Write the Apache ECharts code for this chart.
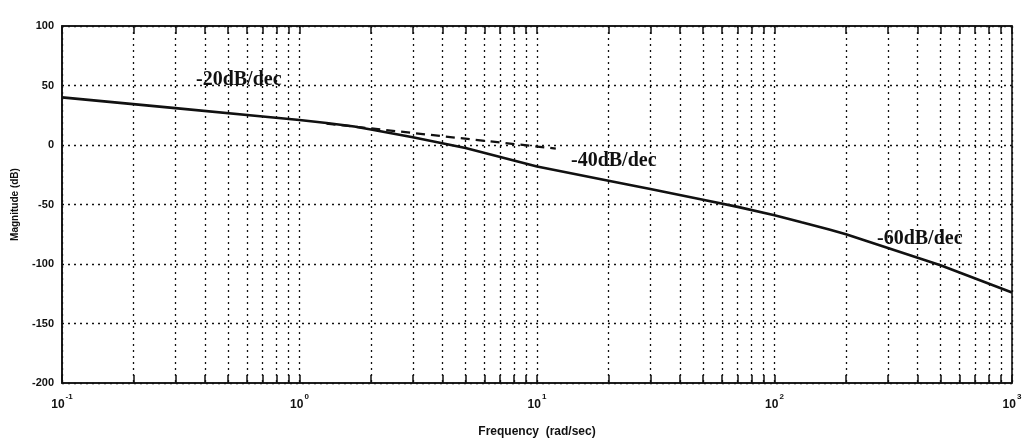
<!DOCTYPE html>
<html>
<head>
<meta charset="utf-8">
<script src="https://cdn.jsdelivr.net/npm/echarts@6/dist/echarts.min.js"></script>
<style>html,body{margin:0;padding:0;background:#fff}#c{width:1026px;height:444px}</style>
</head>
<body>
<div id="c"></div>
<script>
// Solid magnitude curve (rad/sec, dB)
const freq = [0.1, 0.3, 0.7, 1, 1.3, 1.7, 2, 3, 5, 10, 20, 30, 50, 70, 100, 130, 170, 200, 500, 1000];
const magnitude = [40, 31, 24, 21, 18.5, 15.5, 13, 6.5, -2.5, -18, -30, -37, -46, -52, -59, -65, -71, -75, -101, -124];
// Dashed asymptote continuation (-20 dB/dec)
const dashFreq = [1.3, 12];
const dashMag = [18, -3];
// Axis ticks
const xMajor = [0.1, 1, 10, 100, 1000];
const xExp = ['-1', '0', '1', '2', '3'];
const yTicks = [100, 50, 0, -50, -100, -150, -200];
// Slope annotations
const annotations = ['-20dB/dec', '-40dB/dec', '-60dB/dec'];

const allTicks = [];
for (let d = 0.1; d < 1000; d *= 10) {
  for (let k = 1; k < 10; k++) allTicks.push(+(d * k).toPrecision(3));
}
allTicks.push(1000);

const chart = echarts.init(document.getElementById('c'));
const dot = { color: '#111', width: 1.3, type: [2, 4] };
const tickStyle = { show: true, inside: true, length: 8, customValues: allTicks, lineStyle: { color: '#111', width: 1.5 } };
chart.setOption({
  backgroundColor: '#fff',
  animation: false,
  grid: { left: 62, right: 14, top: 26, bottom: 61, show: true, borderColor: '#111', borderWidth: 1.6 },
  xAxis: [{
    type: 'log', logBase: 10, min: 0.1, max: 1000, position: 'bottom',
    name: 'Frequency  (rad/sec)', nameLocation: 'middle', nameGap: 43,
    nameTextStyle: { fontFamily: 'Liberation Sans', fontWeight: 'bold', fontSize: 12, color: '#111' },
    axisLine: { show: true, onZero: false, lineStyle: { color: '#111', width: 1.6 } },
    axisTick: tickStyle,
    splitLine: { show: true, lineStyle: dot },
    minorTick: { show: false },
    axisLabel: {
      customValues: xMajor, margin: 10,
      formatter: function (v) {
        const i = xMajor.findIndex(m => Math.abs(m - v) / m < 1e-6);
        return '{b|10}{s|' + (i >= 0 ? xExp[i] : '') + '}';
      },
      rich: {
        b: { fontFamily: 'Liberation Sans', fontWeight: 'bold', fontSize: 12, color: '#111', lineHeight: 18, verticalAlign: 'bottom' },
        s: { fontFamily: 'Liberation Sans', fontWeight: 'bold', fontSize: 8, color: '#111', lineHeight: 18, verticalAlign: 'top', padding: [0, 0, 0, 1] }
      }
    }
  }, {
    type: 'log', logBase: 10, min: 0.1, max: 1000, position: 'top',
    axisLine: { show: true, onZero: false, lineStyle: { color: '#111', width: 1.6 } },
    axisTick: tickStyle,
    splitLine: { show: false },
    axisLabel: { show: false }
  }],
  yAxis: {
    type: 'value', min: -200, max: 100, interval: 50,
    name: 'Magnitude (dB)', nameLocation: 'middle', nameGap: 42, nameRotate: 90,
    nameTextStyle: { fontFamily: 'Liberation Sans', fontWeight: 'bold', fontSize: 10, color: '#111' },
    axisLine: { show: true, onZero: false, lineStyle: { color: '#111', width: 1.6 } },
    axisTick: { show: false },
    splitLine: { show: true, lineStyle: dot },
    axisLabel: { margin: 8, fontFamily: 'Liberation Sans', fontWeight: 'bold', fontSize: 11, color: '#111' }
  },
  series: [
    {
      type: 'line', data: freq.map((f, i) => [f, magnitude[i]]), symbol: 'none',
      lineStyle: { color: '#111', width: 2.6 }, z: 5
    },
    {
      type: 'line', data: dashFreq.map((f, i) => [f, dashMag[i]]), symbol: 'none',
      lineStyle: { color: '#111', width: 2.2, type: [9, 6] }, z: 5
    }
  ],
  graphic: [
    { type: 'text', left: 196, top: 70, style: { text: annotations[0], font: 'bold 20px "Liberation Serif"', fill: '#111' } },
    { type: 'text', left: 571, top: 151, style: { text: annotations[1], font: 'bold 20px "Liberation Serif"', fill: '#111' } },
    { type: 'text', left: 877, top: 229, style: { text: annotations[2], font: 'bold 20px "Liberation Serif"', fill: '#111' } }
  ]
});
</script>
</body>
</html>
